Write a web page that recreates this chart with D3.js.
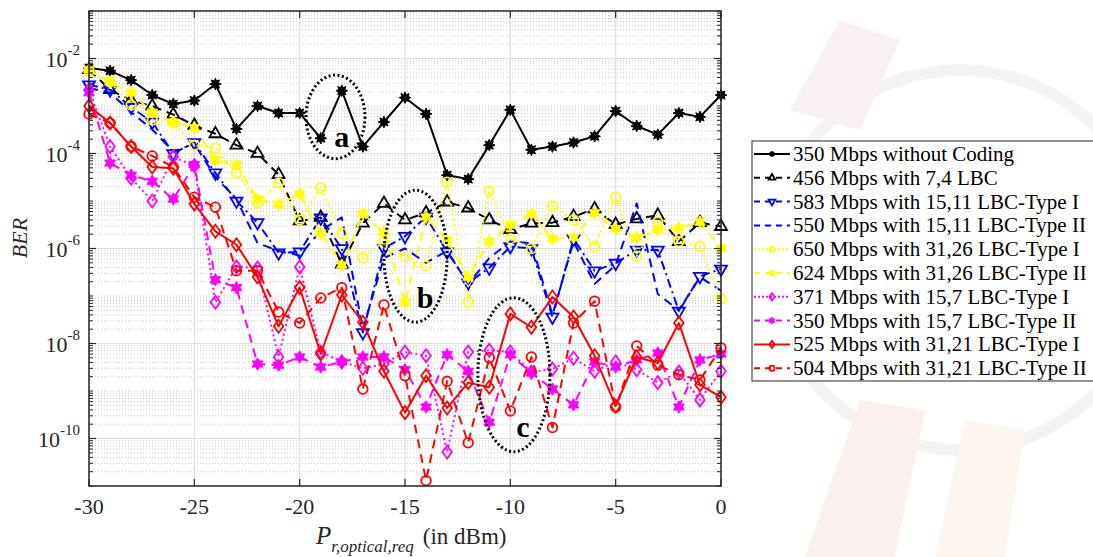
<!DOCTYPE html>
<html>
<head>
<meta charset="utf-8">
<script src="https://cdn.jsdelivr.net/npm/d3@7"></script>
<style>
  body { margin: 0; background: #fff; }
  svg { display: block; font-family: "Liberation Serif", "Times New Roman", serif; }
</style>
</head>
<body>
<svg id="chart" width="1093" height="557"></svg>
<script>
// received optical power (dBm)
const power = [-30,-29,-28,-27,-26,-25,-24,-23,-22,-21,-20,-19,-18,-17,-16,-15,
  -14,-13,-12,-11,-10,-9,-8,-7,-6,-5,-4,-3,-2,-1,0]

// BER, one array per curve
const berUncoded = [6.3e-3,5.5e-3,3.5e-3,1.7e-3,1.1e-3,1.3e-3,2.9e-3,3.3e-4,1.0e-3,7.1e-4,7.1e-4,
  2.1e-4,2.1e-3,1.4e-4,4.6e-4,1.5e-3,6.8e-4,3.5e-5,2.9e-5,1.5e-4,8.3e-4,1.2e-4,1.4e-4,1.7e-4,
  2.3e-4,7.8e-4,3.8e-4,2.5e-4,7.1e-4,5.9e-4,1.7e-3]
const berLbc74 = [5.8e-3,2.2e-3,1.3e-3,1.0e-3,6.6e-4,3.9e-4,2.6e-4,1.5e-4,1.0e-4,3.6e-5,3.8e-6,
  4.5e-6,4.7e-7,3.4e-6,8.9e-6,4.0e-6,5.6e-6,9.5e-6,7.1e-6,4.0e-6,2.5e-6,3.4e-6,3.5e-6,4.7e-6,
  6.8e-6,3.2e-6,4.2e-6,5.0e-6,1.4e-6,3.5e-6,2.9e-6]
const berLbc1511TypeI = [2.8e-3,2.2e-3,9.5e-4,4.6e-4,1.0e-4,1.7e-4,3.9e-5,1.0e-5,3.5e-6,8.1e-7,8.5e-7,
  4.4e-6,1.0e-6,1.7e-8,1.0e-6,1.8e-6,4.6e-6,8.5e-7,1.9e-7,3.9e-7,1.1e-6,1.0e-6,3.6e-8,1.6e-6,
  3.4e-7,4.9e-7,9.3e-7,9.3e-7,4.8e-8,2.6e-7,3.7e-7]
const berLbc1511TypeII = [2.4e-3,1.9e-3,7.4e-4,3.2e-4,1.1e-4,1.6e-4,3.2e-5,1.1e-5,1.3e-6,8.9e-7,7.1e-7,
  2.4e-6,4.5e-6,2.0e-8,6.3e-7,1.0e-6,5.0e-7,8.9e-7,1.8e-7,6.3e-7,1.4e-6,1.3e-6,4.0e-8,1.4e-6,
  1.8e-7,4.5e-7,8.9e-6,1.1e-7,5.0e-8,2.5e-7,1.3e-7]
const berLbc3126TypeI = [5.5e-3,3.2e-3,1.05e-3,5.1e-4,4.4e-4,1.5e-4,1.3e-4,3.9e-5,9.1e-6,2.4e-5,4.0e-6,
  1.9e-5,2.1e-6,6.3e-7,1.4e-6,6.9e-7,4.3e-7,2.5e-5,7.4e-8,1.6e-5,1.6e-6,1.0e-6,7.8e-6,4.0e-6,
  1.1e-6,1.2e-5,6.9e-7,3.6e-6,1.4e-6,1.1e-6,8.7e-8]
const berLbc3126TypeII = [5.8e-3,3.2e-3,1.9e-3,7.4e-4,4.6e-4,3.5e-4,7.2e-5,5.8e-5,1.1e-5,8.5e-6,1.4e-5,
  2.1e-6,4.5e-7,5.4e-6,2.2e-6,7.4e-8,4.6e-6,1.5e-6,2.5e-7,1.4e-6,3.1e-6,5.4e-6,1.6e-6,1.7e-6,
  5.6e-6,2.6e-6,1.7e-6,2.5e-6,2.7e-6,3.6e-6,1.0e-6]
const berLbc157TypeI = [2.2e-3,1.4e-4,3.0e-5,1.0e-5,8.5e-5,5.5e-5,7.4e-8,4.1e-7,3.9e-7,5.2e-9,4.1e-7,
  6.6e-9,4.1e-9,3.0e-9,3.7e-9,6.6e-9,5.5e-9,5.2e-11,6.6e-9,7.2e-9,6.6e-9,2.5e-9,2.9e-9,4.9e-9,
  2.6e-9,4.1e-9,2.8e-9,1.5e-9,2.5e-9,6.5e-10,2.6e-9]
const berLbc157TypeII = [1.9e-3,6.3e-5,3.5e-5,2.6e-5,1.1e-5,5.8e-5,2.2e-7,1.5e-7,3.7e-9,3.5e-9,5.2e-9,
  3.2e-9,4.1e-9,5.2e-9,5.2e-9,2.8e-9,4.6e-10,5.8e-9,2.6e-9,2.2e-10,5.8e-9,2.4e-9,1.1e-9,5.1e-10,
  4.1e-9,3.2e-9,4.5e-9,6.3e-9,4.6e-10,4.5e-9,6.0e-9]
const berLbc3121TypeI = [1.0e-3,4.4e-4,1.4e-4,5.2e-5,4.9e-5,8.7e-6,2.3e-6,1.2e-6,2.5e-7,2.3e-8,1.5e-7,
  6.0e-9,1.05e-7,2.8e-8,2.6e-9,3.5e-10,2.1e-9,4.4e-10,1.5e-9,1.2e-9,4.2e-8,2.2e-8,9.5e-8,3.6e-8,
  5.5e-9,4.8e-10,5.2e-9,3.9e-9,2.7e-8,1.35e-9,7.4e-10]
const berLbc3121TypeII = [6.8e-4,4.4e-4,1.4e-4,8.9e-5,5.2e-5,1.2e-5,7.4e-6,3.4e-7,3.4e-7,4.6e-8,2.7e-8,
  9.1e-8,1.5e-7,1.1e-9,6.5e-8,2.1e-9,1.3e-11,1.6e-9,8.1e-11,5.0e-9,3.8e-10,5.2e-9,1.7e-10,2.7e-8,
  7.8e-8,4.6e-10,8.9e-9,3.5e-9,2.2e-9,1.7e-9,8.1e-9]

const seriesNames = [
  "350 Mbps without Coding", "456 Mbps with 7,4 LBC",
  "583 Mbps with 15,11 LBC-Type I", "550 Mbps with 15,11 LBC-Type II",
  "650 Mbps with 31,26 LBC-Type I", "624 Mbps with 31,26 LBC-Type II",
  "371 Mbps with 15,7 LBC-Type I", "350 Mbps with 15,7 LBC-Type II",
  "525 Mbps with 31,21 LBC-Type I", "504 Mbps with 31,21 LBC-Type II"]
const seriesValues = [berUncoded, berLbc74, berLbc1511TypeI, berLbc1511TypeII,
  berLbc3126TypeI, berLbc3126TypeII, berLbc157TypeI, berLbc157TypeII,
  berLbc3121TypeI, berLbc3121TypeII]

// y tick labels (exponents of 10)
const yTickExponents = [-2, -4, -6, -8, -10]
const xTicks = [-30, -25, -20, -15, -10, -5, 0]

// dotted ellipses marking regions a, b, c: centre (dBm, BER), half width (dB), half height (decades)
const marks = [
  {label: "a", x: -18.3, ber: 5.9e-4, rx: 1.4, ry: 0.88, tx: -18.0, tber: 1.4e-4},
  {label: "b", x: -14.5, ber: 6.9e-7, rx: 1.5, ry: 1.39, tx: -14.05, tber: 5.6e-8},
  {label: "c", x: -9.83, ber: 2.2e-9, rx: 1.71, ry: 1.62, tx: -9.4, tber: 1.1e-10}
]

// styles
const styles = [
  {color: "#000000", dash: null,          marker: "asterisk"},
  {color: "#000000", dash: "9,6",         marker: "triUp"},
  {color: "#0000ff", dash: "9,4,2,4",     marker: "triDown"},
  {color: "#0000ff", dash: "9,6",         marker: null},
  {color: "#ffff00", dash: "2,3",         marker: "circle"},
  {color: "#ffff00", dash: "9,6",         marker: "hexagram"},
  {color: "#ff00ff", dash: "2,3",         marker: "diamond"},
  {color: "#ff00ff", dash: "9,6",         marker: "hexagram"},
  {color: "#ff0000", dash: null,          marker: "diamond"},
  {color: "#ff0000", dash: "9,6",         marker: "circle"}
]

const svg = d3.select("#chart")
const pLeft = 89, pRight = 721, pTop = 11, pBottom = 486
const axisColor = "#262626"

const x = d3.scaleLinear().domain([-30, 0]).range([pLeft, pRight])
const y = d3.scaleLog().domain([1e-11, 1e-1]).range([pBottom, pTop])

// faint watermark behind the legend
const wm = svg.append("g").attr("opacity", 0.07)
wm.append("circle").attr("cx", 960).attr("cy", 260).attr("r", 190)
  .attr("fill", "none").attr("stroke", "#7a5a5a").attr("stroke-width", 12)
wm.append("path").attr("d", "M805,557 L860,400 L925,410 L895,557 Z").attr("fill", "#d23a1a")
wm.append("path").attr("d", "M935,557 L965,420 L1025,430 L1005,557 Z").attr("fill", "#e08a20")
wm.append("path").attr("d", "M790,110 L840,20 L900,40 L860,130 Z").attr("fill", "#b04a4a")

// grid
const minorVals = []
for (let e = -11; e < -1; e++) for (let m = 2; m <= 9; m++) minorVals.push(m * Math.pow(10, e))
const oddDecades = [-11, -9, -7, -5, -3, -1].map(e => Math.pow(10, e))
const grid = svg.append("g")
grid.selectAll(null).data(minorVals.concat(oddDecades)).enter().append("line")
  .attr("x1", pLeft).attr("x2", pRight)
  .attr("y1", d => y(d)).attr("y2", d => y(d))
  .attr("stroke", "#c8c8c8").attr("stroke-width", 1).attr("stroke-dasharray", "1,2")
grid.selectAll(null).data(yTickExponents).enter().append("line")
  .attr("x1", pLeft).attr("x2", pRight)
  .attr("y1", d => y(Math.pow(10, d))).attr("y2", d => y(Math.pow(10, d)))
  .attr("stroke", "#dedede").attr("stroke-width", 1.2)
grid.selectAll(null).data(xTicks).enter().append("line")
  .attr("x1", d => x(d)).attr("x2", d => x(d))
  .attr("y1", pTop).attr("y2", pBottom)
  .attr("stroke", "#dedede").attr("stroke-width", 1.2)

// marker shapes
function starPath(points, outer, inner) {
  let p = []
  for (let i = 0; i < points * 2; i++) {
    const r = i % 2 ? inner : outer
    const a = Math.PI * i / points - Math.PI / 2
    p.push([r * Math.cos(a), r * Math.sin(a)])
  }
  return "M" + p.map(d => d.join(",")).join("L") + "Z"
}
function markerPath(type, s) {
  switch (type) {
    case "asterisk": return starPath(8, 5.8 * s, 3.2 * s)
    case "hexagram": return starPath(6, 6.2 * s, 3.5 * s)
    case "triUp": return d3.symbol(d3.symbolTriangle, 62 * s * s)()
    case "triDown": return d3.symbol(d3.symbolTriangle, 62 * s * s)()
    case "circle": return d3.symbol(d3.symbolCircle, 72 * s * s)()
    case "diamond": return `M0,${-6.5 * s}L${4.8 * s},0L0,${6.5 * s}L${-4.8 * s},0Z`
  }
}
function drawMarker(g, type, color, s) {
  if (!type) return
  const filled = type === "asterisk" || type === "hexagram"
  g.append("path").attr("d", markerPath(type, s))
    .attr("transform", type === "triDown" ? "rotate(180)" : null)
    .attr("fill", filled ? color : "none")
    .attr("stroke", color).attr("stroke-width", filled ? 1 : 1.8)
}

// lines
const line = d3.line().x(d => x(d[0])).y(d => y(d[1]))
const plot = svg.append("g")
seriesValues.forEach((vals, i) => {
  const st = styles[i]
  const pts = power.map((p, j) => [p, vals[j]])
  plot.append("path").datum(pts).attr("d", line)
    .attr("fill", "none").attr("stroke", st.color).attr("stroke-width", 2)
    .attr("stroke-dasharray", st.dash).attr("stroke-linejoin", "round")
  plot.selectAll(null).data(pts).enter().append("g")
    .attr("transform", d => `translate(${x(d[0])},${y(d[1])})`)
    .each(function() { drawMarker(d3.select(this), st.marker, st.color, 1) })
})

// annotations
const ann = svg.append("g")
marks.forEach(m => {
  const cx = x(m.x), cy = y(m.ber)
  const rx = x(m.x + m.rx) - cx
  const ry = y(m.ber) - y(m.ber * Math.pow(10, m.ry))
  ann.append("ellipse").attr("cx", cx).attr("cy", cy).attr("rx", rx).attr("ry", ry)
    .attr("fill", "none").attr("stroke", "#000").attr("stroke-width", 3)
    .attr("stroke-dasharray", "2,2.5")
  ann.append("text").attr("x", x(m.tx)).attr("y", y(m.tber))
    .attr("text-anchor", "middle").attr("font-size", 30).attr("font-weight", "bold")
    .text(m.label)
})

// axes box and ticks
const axes = svg.append("g")
axes.append("rect").attr("x", pLeft).attr("y", pTop).attr("width", pRight - pLeft).attr("height", pBottom - pTop)
  .attr("fill", "none").attr("stroke", axisColor).attr("stroke-width", 1.5)
const allMinor = minorVals.concat(oddDecades)
;[[pLeft, 1], [pRight, -1]].forEach(([ax, dir]) => {
  axes.selectAll(null).data(allMinor).enter().append("line")
    .attr("x1", ax).attr("x2", ax + dir * 4)
    .attr("y1", d => y(d)).attr("y2", d => y(d))
    .attr("stroke", axisColor).attr("stroke-width", 1)
  axes.selectAll(null).data(yTickExponents).enter().append("line")
    .attr("x1", ax).attr("x2", ax + dir * 7)
    .attr("y1", d => y(Math.pow(10, d))).attr("y2", d => y(Math.pow(10, d)))
    .attr("stroke", axisColor).attr("stroke-width", 1.2)
})
;[[pBottom, -1], [pTop, 1]].forEach(([ay, dir]) => {
  axes.selectAll(null).data(xTicks).enter().append("line")
    .attr("x1", d => x(d)).attr("x2", d => x(d))
    .attr("y1", ay).attr("y2", ay + dir * 7)
    .attr("stroke", axisColor).attr("stroke-width", 1.2)
})

// tick labels
axes.selectAll(null).data(xTicks).enter().append("text")
  .attr("x", d => x(d)).attr("y", 514).attr("text-anchor", "middle")
  .attr("font-size", 22).attr("fill", axisColor).text(d => d)
yTickExponents.forEach(e => {
  const t = axes.append("text").attr("x", 80).attr("y", y(Math.pow(10, e)) + 8)
    .attr("text-anchor", "end").attr("font-size", 22).attr("fill", axisColor)
  t.append("tspan").text("10")
  t.append("tspan").attr("dy", -12).attr("font-size", 15).text(e)
})

// axis titles
const xt = svg.append("text").attr("x", 316).attr("y", 544).attr("fill", axisColor).attr("font-size", 25)
xt.append("tspan").attr("font-style", "italic").text("P")
xt.append("tspan").attr("font-style", "italic").attr("font-size", 17).attr("dy", 8).text("r,optical,req")
xt.append("tspan").attr("dy", -8).attr("dx", 9).attr("font-size", 23).text("(in dBm)")
svg.append("text").attr("transform", "translate(27,238) rotate(-90)")
  .attr("text-anchor", "middle").attr("font-size", 22).attr("font-style", "italic")
  .attr("fill", axisColor).text("BER")

// legend
const lg = svg.append("g").attr("transform", "translate(752,141)")
lg.append("rect").attr("width", 345).attr("height", 240)
  .attr("fill", "#fff").attr("stroke", "#262626").attr("stroke-width", 1)
seriesNames.forEach((name, i) => {
  const st = styles[i]
  const g = lg.append("g").attr("transform", `translate(0,${13 + i * 23.8})`)
  g.append("line").attr("x1", 2).attr("x2", 38).attr("y1", 0).attr("y2", 0)
    .attr("stroke", st.color).attr("stroke-width", 2)
    .attr("stroke-dasharray", st.dash ? (st.dash === "2,3" ? "2,2" : "6,5") : null)
  const mg = g.append("g").attr("transform", "translate(20,0)")
  if (st.marker === "asterisk") mg.append("circle").attr("r", 2.8).attr("fill", st.color)
  else drawMarker(mg, st.marker, st.color, 0.55)
  g.append("text").attr("x", 41).attr("y", 7).attr("font-size", 21).attr("fill", "#000").text(name)
})
</script>
</body>
</html>
